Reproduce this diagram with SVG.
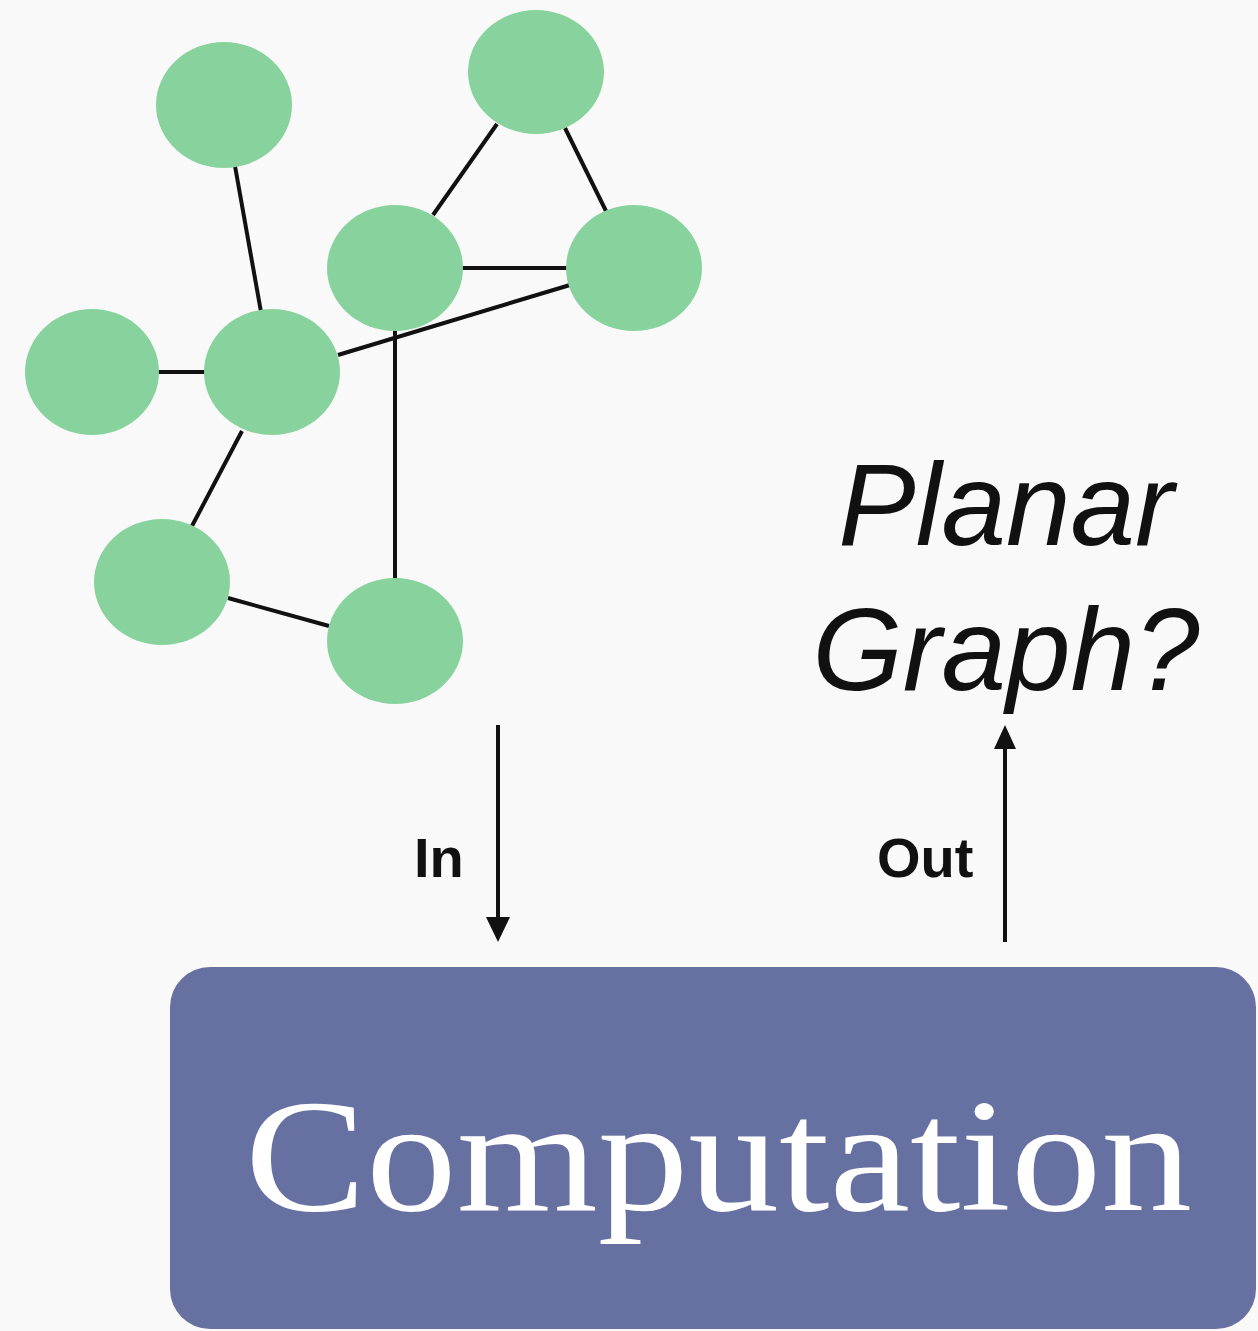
<svg xmlns="http://www.w3.org/2000/svg" width="1258" height="1331" viewBox="0 0 1258 1331">
  <style>
    .node { fill: #88d39d; }
    .edge { stroke: #111; stroke-width: 4; stroke-linecap: butt; fill: none; }
    .arrow { stroke: #111; stroke-width: 4; fill: none; }
    .head { fill: #111; }
    .label { font-family: "Liberation Sans", Arial, sans-serif; font-weight: bold; font-size: 56px; fill: #111; }
    .question { font-family: "Liberation Sans", Arial, sans-serif; font-style: italic; font-size: 116px; fill: #111; }
    .box { fill: #6670a1; }
    .boxtext { font-family: "Liberation Serif", "Times New Roman", serif; font-size: 160px; fill: #ffffff; }
  </style>

  <rect x="0" y="0" width="1258" height="1331" fill="#f9f9f9"/>

  <!-- graph edges -->
  <g id="connectors">
    <line class="edge" x1="235" y1="166" x2="261" y2="312"/>
    <line class="edge" x1="158" y1="372" x2="206" y2="372"/>
    <line class="edge" x1="497" y1="124" x2="433" y2="215"/>
    <line class="edge" x1="565" y1="128" x2="606" y2="211"/>
    <line class="edge" x1="461" y1="268" x2="569" y2="268"/>
    <line class="edge" x1="338" y1="355" x2="570" y2="285"/>
    <line class="edge" x1="395" y1="330" x2="395" y2="580"/>
    <line class="edge" x1="242" y1="431" x2="192" y2="526"/>
    <line class="edge" x1="228" y1="598" x2="329" y2="626"/>

    <!-- input / output arrows -->
    <g id="arrow-in">
      <line class="arrow" x1="498" y1="725" x2="498" y2="920"/>
      <polygon class="head" points="486,917 510,917 498,942"/>
    </g>
    <g id="arrow-out">
      <line class="arrow" x1="1005" y1="942" x2="1005" y2="746"/>
      <polygon class="head" points="994,749 1016,749 1005,725"/>
    </g>
  </g>

  <!-- graph vertices -->
  <g id="nodes">
    <ellipse id="n-topleft" class="node" cx="224" cy="105" rx="68" ry="63"/>
    <ellipse id="n-top" class="node" cx="536" cy="72" rx="68" ry="62"/>
    <ellipse id="n-mid" class="node" cx="395" cy="268" rx="68" ry="63"/>
    <ellipse id="n-right" class="node" cx="634" cy="268" rx="68" ry="63"/>
    <ellipse id="n-left" class="node" cx="92" cy="372" rx="67" ry="63"/>
    <ellipse id="n-hub" class="node" cx="272" cy="372" rx="68" ry="63"/>
    <ellipse id="n-lowleft" class="node" cx="162" cy="582" rx="68" ry="63"/>
    <ellipse id="n-bottom" class="node" cx="395" cy="641" rx="68" ry="63"/>
  </g>

  <g id="labels">
    <text class="label" x="414" y="877">In</text>
    <text class="label" x="877" y="877">Out</text>
    <text class="question" x="1006" y="545" text-anchor="middle">Planar</text>
    <text class="question" x="1006" y="690" text-anchor="middle">Graph?</text>
  </g>

  <g id="computation">
    <rect class="box" x="170" y="967" width="1086" height="362" rx="40" ry="40"/>
    <text class="boxtext" x="245" y="1210" textLength="947" lengthAdjust="spacingAndGlyphs">Computation</text>
  </g>
</svg>
